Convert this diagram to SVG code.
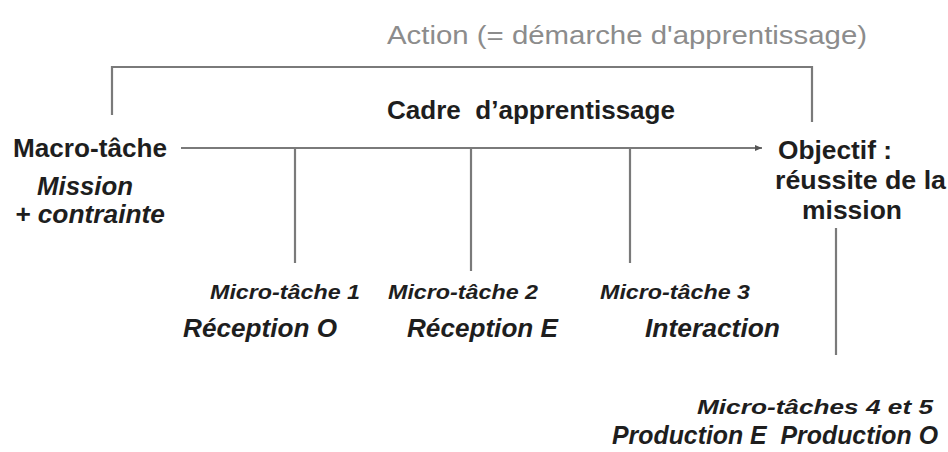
<svg xmlns="http://www.w3.org/2000/svg" width="948" height="452" viewBox="0 0 948 452">
<style>
text{font-family:"Liberation Sans",Arial,Helvetica,sans-serif;fill:#1e1e1e;white-space:pre;}
.title{fill:#8c8c8c;font-size:26px;}
.b{font-weight:bold;font-size:25px;}
.bi{font-weight:bold;font-style:italic;font-size:25px;}
.sm{font-weight:bold;font-style:italic;font-size:21px;}
.ln{stroke:#7a7a7a;stroke-width:2.2;fill:none;}
</style>
<defs>
<marker id="arr" markerWidth="8" markerHeight="8" refX="7" refY="4" orient="auto" markerUnits="userSpaceOnUse">
<path d="M0,1 L7,4 L0,7 Z" fill="#555"/>
</marker>
</defs>
<rect width="948" height="452" fill="#fff"/>
<g id="connectors">
<path class="ln" d="M112,115 V67 H812 V122"/>
<line class="ln" x1="181" y1="148" x2="762" y2="148" marker-end="url(#arr)"/>
<line class="ln" x1="295" y1="148" x2="295" y2="263"/>
<line class="ln" x1="471" y1="148" x2="471" y2="271"/>
<line class="ln" x1="630" y1="148" x2="630" y2="263"/>
<line class="ln" x1="836" y1="228" x2="836" y2="355"/>
</g>
<g id="action"><text class="title" x="387" y="44" textLength="480" lengthAdjust="spacingAndGlyphs">Action (= démarche d'apprentissage)</text></g>
<g id="cadre"><text class="b" x="387" y="119" textLength="288" lengthAdjust="spacingAndGlyphs" xml:space="preserve">Cadre  d’apprentissage</text></g>
<g id="macro">
<text class="b" x="13" y="157" textLength="154" lengthAdjust="spacingAndGlyphs">Macro-tâche</text>
<text class="bi" x="37" y="195" textLength="96" lengthAdjust="spacingAndGlyphs">Mission</text>
<text class="bi" x="15" y="223" textLength="150" lengthAdjust="spacingAndGlyphs">+ contrainte</text>
</g>
<g id="objectif">
<text class="b" x="778" y="159" textLength="114" lengthAdjust="spacingAndGlyphs">Objectif :</text>
<text class="b" x="775" y="189" textLength="171" lengthAdjust="spacingAndGlyphs">réussite de la</text>
<text class="b" x="802" y="219" textLength="100" lengthAdjust="spacingAndGlyphs">mission</text>
</g>
<g id="micro1">
<text class="sm" x="210" y="299" textLength="150" lengthAdjust="spacingAndGlyphs">Micro-tâche 1</text>
<text class="bi" x="183" y="337" textLength="154" lengthAdjust="spacingAndGlyphs">Réception O</text>
</g>
<g id="micro2">
<text class="sm" x="388" y="299" textLength="150" lengthAdjust="spacingAndGlyphs">Micro-tâche 2</text>
<text class="bi" x="407" y="337" textLength="151" lengthAdjust="spacingAndGlyphs">Réception E</text>
</g>
<g id="micro3">
<text class="sm" x="600" y="299" textLength="150" lengthAdjust="spacingAndGlyphs">Micro-tâche 3</text>
<text class="bi" x="645" y="337" textLength="135" lengthAdjust="spacingAndGlyphs">Interaction</text>
</g>
<g id="micro45">
<text class="sm" x="697" y="414" textLength="236" lengthAdjust="spacingAndGlyphs">Micro-tâches 4 et 5</text>
<text class="bi" x="612" y="444" textLength="326" lengthAdjust="spacingAndGlyphs" xml:space="preserve">Production E  Production O</text>
</g>
</svg>
